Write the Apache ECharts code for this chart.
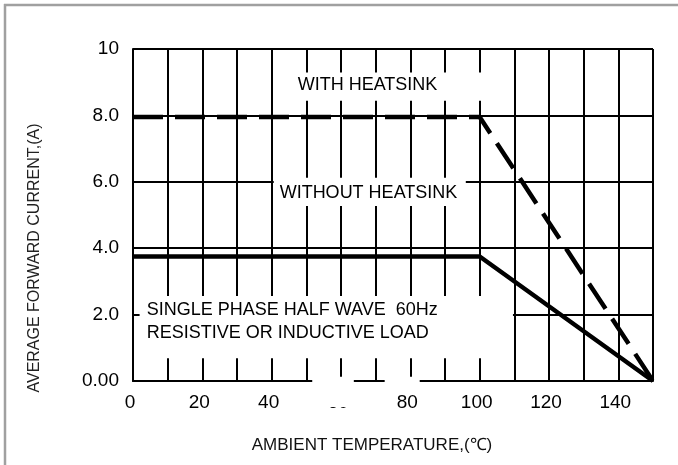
<!DOCTYPE html>
<html>
<head>
<meta charset="utf-8">
<script src="https://cdn.jsdelivr.net/npm/echarts@6/dist/echarts.min.js"></script>
<style>
html, body { margin: 0; padding: 0; background: #fff; }
#chart { width: 678px; height: 465px; }
</style>
</head>
<body>
<div id="chart"></div>
<script>
// break points of the two derating curves (ambient temp, average current)
const tempWithSink = [0, 100, 150];
const currentWithSink = [7.95, 7.95, 0];
const tempNoSink = [0, 100, 150];
const currentNoSink = [3.75, 3.75, 0];

const xTickLabels = ['0', '20', '40', '60', '80', '100', '120', '140'];
const yTickLabels = ['0.00', '2.0', '4.0', '6.0', '8.0', '10'];

const font = '"Liberation Sans", Arial, sans-serif';
const chart = echarts.init(document.getElementById('chart'));

function pairs(xs, ys) {
    return xs.map((x, i) => [x, ys[i]]);
}

chart.setOption({
    animation: false,
    grid: { left: 133, top: 49, width: 520, height: 332 },
    xAxis: {
        type: 'value',
        min: 0,
        max: 150,
        interval: 10,
        axisLine: { lineStyle: { color: '#000', width: 2 } },
        axisTick: { show: false },
        splitLine: { showMinLine: true, showMaxLine: true, lineStyle: { color: '#000', width: 2 } },
        axisLabel: {
            margin: 12,
            padding: [0, 6, 0, 0],
            color: '#000',
            fontSize: 19,
            fontFamily: font,
            formatter: v => (v % 20 === 0 ? (xTickLabels[v / 20] || '') : '')
        }
    },
    yAxis: {
        type: 'value',
        min: 0,
        max: 10,
        interval: 2,
        axisLine: { show: true, lineStyle: { color: '#000', width: 2 } },
        axisTick: { show: false },
        splitLine: { showMinLine: true, showMaxLine: true, lineStyle: { color: '#000', width: 2 } },
        axisLabel: {
            margin: 14,
            color: '#000',
            fontSize: 19,
            fontFamily: font,
            formatter: v => yTickLabels[v / 2]
        }
    },
    series: [
        {
            name: 'WITH HEATSINK',
            type: 'line',
            data: pairs(tempWithSink, currentWithSink),
            symbol: 'none',
            z: 3,
            lineStyle: { color: '#000', width: 4.5, type: [30, 12] }
        },
        {
            name: 'WITHOUT HEATSINK',
            type: 'line',
            data: pairs(tempNoSink, currentNoSink),
            symbol: 'none',
            z: 3,
            lineStyle: { color: '#000', width: 4.5 }
        }
    ]
});

// white patches where the scanned grid is interrupted by the labels
const px = (x, y) => chart.convertToPixel({ gridIndex: 0 }, [x, y]);
function cover(x0, y0, x1, y1) {
    const a = px(x0, y1), b = px(x1, y0);
    return {
        type: 'rect', z: 1, silent: true,
        shape: { x: a[0], y: a[1], width: b[0] - a[0], height: b[1] - a[1] },
        style: { fill: '#fff' }
    };
}
function note(text, x, y) {
    const p = px(x, y);
    return {
        type: 'text', z: 4, silent: true, x: p[0], y: p[1],
        style: { text: text, fill: '#000', font: '18px ' + font, textAlign: 'left', textVerticalAlign: 'middle' }
    };
}

chart.setOption({
    graphic: [
        { type: 'line', z: 4, shape: { x1: 4, y1: 5, x2: 678, y2: 5 }, style: { stroke: '#a0a0a0', lineWidth: 2.5 } },
        { type: 'line', z: 4, shape: { x1: 5, y1: 4, x2: 5, y2: 465 }, style: { stroke: '#a0a0a0', lineWidth: 2.5 } },
        cover(44, 8.44, 104, 9.29),
        cover(40.6, 5.27, 96, 6.12),
        cover(1.9, 0.685, 109.6, 2.56),
        cover(51.7, -0.78, 63.7, 0.13),
        cover(72.6, -0.07, 82.7, 0.13),
        note('WITH HEATSINK', 47.5, 8.92),
        note('WITHOUT HEATSINK', 42.3, 5.67),
        note('SINGLE PHASE HALF WAVE  60Hz', 3.95, 2.13),
        note('RESISTIVE OR INDUCTIVE LOAD', 3.95, 1.45),
        {
            type: 'text', z: 4, x: 35, y: 258, rotation: Math.PI / 2,
            style: { text: 'AVERAGE FORWARD CURRENT,(A)', fill: '#222', font: '16px ' + font, textAlign: 'center', textVerticalAlign: 'middle' }
        },
        {
            type: 'text', z: 4, x: 372, y: 445,
            style: { text: 'AMBIENT TEMPERATURE,(℃)', fill: '#111', font: '17px ' + font, textAlign: 'center', textVerticalAlign: 'middle' }
        }
    ]
});
</script>
</body>
</html>
